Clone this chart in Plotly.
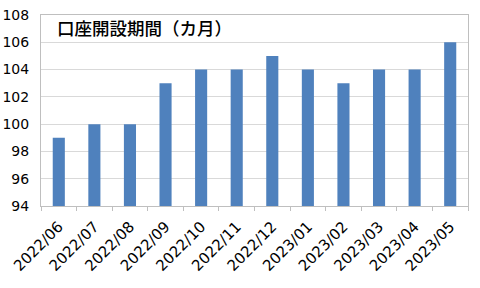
import plotly.graph_objects as go

categories = ["2022/06", "2022/07", "2022/08", "2022/09", "2022/10", "2022/11",
              "2022/12", "2023/01", "2023/02", "2023/03", "2023/04", "2023/05"]
values = [99, 100, 100, 103, 104, 104, 105, 104, 103, 104, 104, 106]
y_ticks = [94, 96, 98, 100, 102, 104, 106, 108]
title_text = "口座開設期間（カ月）"

num_font = "DejaVu Sans"
cjk_font = "Noto Sans CJK JP"

fig = go.Figure(go.Bar(x=categories, y=values, marker_color="#4F81BD",
                       marker_line_width=0))
fig.update_layout(
    width=480, height=288,
    margin=dict(l=41, r=12, t=15, b=82, autoexpand=False),
    paper_bgcolor="white", plot_bgcolor="white",
    bargap=0.66,
    showlegend=False,
    font=dict(family=num_font, color="#000000"),
)
fig.update_xaxes(
    type="category", tickangle=-45, tickfont=dict(size=15, family=num_font, color="#000000"),
    showline=True, linecolor="#bfbfbf", linewidth=1, mirror=True,
    ticks="outside", tickson="boundaries", ticklen=4, tickcolor="#bfbfbf",
    showgrid=False, ticklabelstandoff=5, automargin=False,
)
fig.update_yaxes(
    range=[94, 108], tickvals=y_ticks, tickfont=dict(size=14, family=num_font, color="#000000"),
    showline=True, linecolor="#bfbfbf", linewidth=1, mirror=True,
    showgrid=True, gridcolor="#d9d9d9", gridwidth=1, ticks="", zeroline=False,
    ticklabelstandoff=8, automargin=False,
)
fig.add_annotation(text=title_text, xref="paper", yref="paper", x=0.032, y=0.936,
                   xanchor="left", yanchor="middle", showarrow=False,
                   font=dict(size=17.5, family=cjk_font, color="#000000", weight=500))
fig.write_html("out.html")
